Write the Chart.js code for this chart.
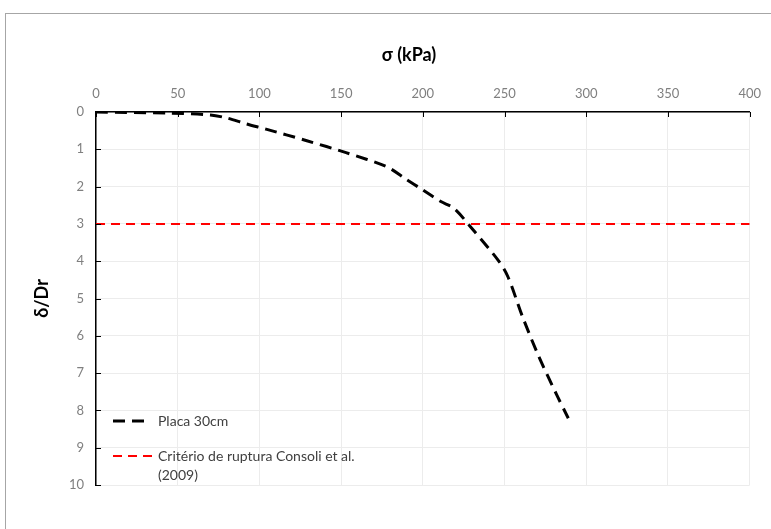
<!DOCTYPE html>
<html>
<head>
<meta charset="utf-8">
<script src="https://cdn.jsdelivr.net/npm/chart.js@4.4.1/dist/chart.umd.min.js"></script>
<style>
  html, body { margin: 0; padding: 0; background: #fff; }
  .wrap { position: relative; width: 771px; height: 529px; }
  .frame { position: absolute; left: 5px; top: 13px; right: -2px; bottom: -2px; border-top: 1px solid #a6a6a6; border-left: 1px solid #a6a6a6; }
  canvas { position: absolute; left: 0; top: 0; }
</style>
</head>
<body>
<div class="wrap">
  <div class="frame"></div>
  <canvas id="myChart" width="771" height="529"></canvas>
</div>
<script>
// values
const sigma = [0, 45, 70, 80, 92, 104, 129, 153, 178, 189, 200, 211, 219, 229, 246, 252, 261, 271, 282, 289];
const delta = [0, 0.03, 0.08, 0.16, 0.32, 0.46, 0.77, 1.09, 1.47, 1.78, 2.09, 2.40, 2.58, 3.07, 3.97, 4.41, 5.49, 6.56, 7.59, 8.21];
const criterioX = [0, 400];
const criterioY = [3, 3];
const seriesNames = [['Placa 30cm'], ['Critério de ruptura Consoli et al.', '(2009)']];
const xTitle = 'σ (kPa)';
const yTitle = 'δ/Dr';

const gridColor = '#ececec';
const tickColor = '#7f7f7f';

const ctx = document.getElementById('myChart');

// inward tick marks, the x title and the legend inside the plot
const extras = {
  id: 'extras',
  afterDraw(chart) {
    const c = chart.ctx;
    const area = chart.chartArea;
    const xs = chart.scales.x, ys = chart.scales.y;
    c.save();
    c.strokeStyle = '#000';
    c.lineWidth = 1;
    xs.ticks.forEach((t, i) => {
      const px = Math.round(xs.getPixelForTick(i)) + 0.5;
      c.beginPath(); c.moveTo(px, area.top); c.lineTo(px, area.top + 5); c.stroke();
    });
    ys.ticks.forEach((t, i) => {
      const py = Math.round(ys.getPixelForTick(i)) + 0.5;
      c.beginPath(); c.moveTo(area.left, py); c.lineTo(area.left + 5, py); c.stroke();
    });

    c.fillStyle = '#000';
    c.font = 'bold 18px Lato, "Open Sans", sans-serif';
    c.textAlign = 'center';
    c.textBaseline = 'middle';
    c.fillText(xTitle, 409, 55);

    // legend: sample line holds only whole dashes, like the original
    c.font = '14px Lato, "Open Sans", sans-serif';
    c.textAlign = 'left';
    let y = area.bottom - 64;
    chart.data.datasets.forEach((ds, i) => {
      const [dash, gap] = ds.borderDash;
      const n = Math.floor((40 + gap) / (dash + gap));
      const len = n * dash + (n - 1) * gap;
      c.strokeStyle = ds.borderColor;
      c.lineWidth = ds.borderWidth;
      c.setLineDash(ds.borderDash);
      c.beginPath(); c.moveTo(area.left + 17, y); c.lineTo(area.left + 17 + len, y); c.stroke();
      c.setLineDash([]);
      c.fillStyle = '#404040';
      seriesNames[i].forEach((line, j) => c.fillText(line, area.left + 62, y + j * 19));
      y += 35;
    });
    c.restore();
  }
};

new Chart(ctx, {
  type: 'scatter',
  data: {
    datasets: [{
      label: seriesNames[0].join(' '),
      data: sigma.map((s, i) => ({x: s, y: delta[i]})),
      showLine: true,
      borderColor: '#000',
      borderWidth: 3,
      borderDash: [12, 7],
      pointRadius: 0,
      tension: 0.3,
      order: 2
    }, {
      label: seriesNames[1].join(' '),
      data: criterioX.map((s, i) => ({x: s, y: criterioY[i]})),
      showLine: true,
      borderColor: '#ff0000',
      borderWidth: 2,
      borderDash: [9, 6],
      pointRadius: 0,
      order: 1
    }]
  },
  options: {
    responsive: false,
    animation: false,
    layout: { padding: { left: 0, right: 21, top: 0, bottom: 44 } },
    plugins: { legend: { display: false }, tooltip: { enabled: false } },
    scales: {
      x: {
        type: 'linear',
        position: 'top',
        min: 0, max: 400,
        ticks: { stepSize: 50, color: tickColor, padding: 10, font: { family: 'Lato', size: 13 } },
        grid: { color: gridColor, drawTicks: false },
        border: { color: '#000', width: 1.5 },
        afterFit(scale) { scale.height = 112; }
      },
      y: {
        type: 'linear',
        reverse: true,
        min: 0, max: 10,
        ticks: { stepSize: 1, color: tickColor, padding: 12, font: { family: 'Lato', size: 13 } },
        grid: { color: gridColor, drawTicks: false },
        border: { color: '#000', width: 1.5 },
        title: { display: true, text: yTitle, color: '#000', font: { family: 'Lato', size: 18, weight: 'bold' }, padding: { top: 31, bottom: 0 } },
        afterFit(scale) { scale.width = 96; }
      }
    }
  },
  plugins: [extras]
});
</script>
</body>
</html>
